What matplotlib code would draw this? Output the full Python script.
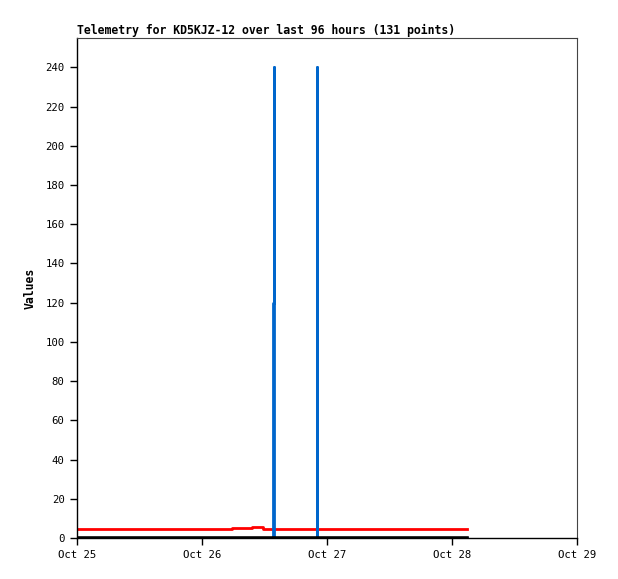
import matplotlib
matplotlib.use("Agg")
import matplotlib.pyplot as plt
import matplotlib.dates as mdates
import pandas as pd

# Telemetry series
red_times = ["2024-10-24 03:00", "2024-10-26 05:45", "2024-10-26 09:35",
             "2024-10-26 11:45", "2024-10-28 02:55"]
red_values = [4.7, 5.1, 5.8, 4.7, 4.7]

blue_times = ["2024-10-24 03:00", "2024-10-26 13:35", "2024-10-26 13:45",
              "2024-10-26 13:55", "2024-10-26 22:00", "2024-10-26 22:08",
              "2024-10-28 02:55"]
blue_values = [0, 120, 240, 0, 240, 0, 0]

black_times = ["2024-10-24 03:00", "2024-10-28 02:55"]
black_values = [0, 0]

x_start, x_end = "2024-10-25", "2024-10-29"
y_ticks = list(range(0, 241, 20))

mono = "DejaVu Sans Mono"

fig = plt.figure(figsize=(6.18, 5.79), dpi=100)
ax = fig.add_axes([77 / 618, 41 / 579, 500 / 618, 500 / 579])

ax.plot(pd.to_datetime(red_times), red_values, drawstyle="steps-post",
        color="#ff0000", lw=2.0, zorder=2)
ax.plot(pd.to_datetime(blue_times), blue_values, drawstyle="steps-post",
        color="#0066cc", lw=2.0, zorder=3)
ax.plot(pd.to_datetime(black_times), black_values, color="black",
        lw=2.6, zorder=4)

ax.set_xlim(pd.Timestamp(x_start), pd.Timestamp(x_end))
ax.set_ylim(0, 255)
ax.set_yticks(y_ticks)
ax.xaxis.set_major_locator(mdates.DayLocator())
ax.xaxis.set_major_formatter(mdates.DateFormatter("%b %d"))

ax.tick_params(direction="out", length=5, width=1, labelsize=7.7, pad=4)
for lab in ax.get_xticklabels() + ax.get_yticklabels():
    lab.set_family(mono)

for side in ("top", "right"):
    ax.spines[side].set_color("#444444")
    ax.spines[side].set_linewidth(0.8)
for side in ("left", "bottom"):
    ax.spines[side].set_color("black")
    ax.spines[side].set_linewidth(1)

ax.set_ylabel("Values", family=mono, fontweight="bold", fontsize=8.3, labelpad=6)
ax.set_title("Telemetry for KD5KJZ-12 over last 96 hours (131 points)",
             family=mono, fontweight="bold", fontsize=8.3, loc="left", pad=3)

fig.savefig("out.png", dpi=100)
